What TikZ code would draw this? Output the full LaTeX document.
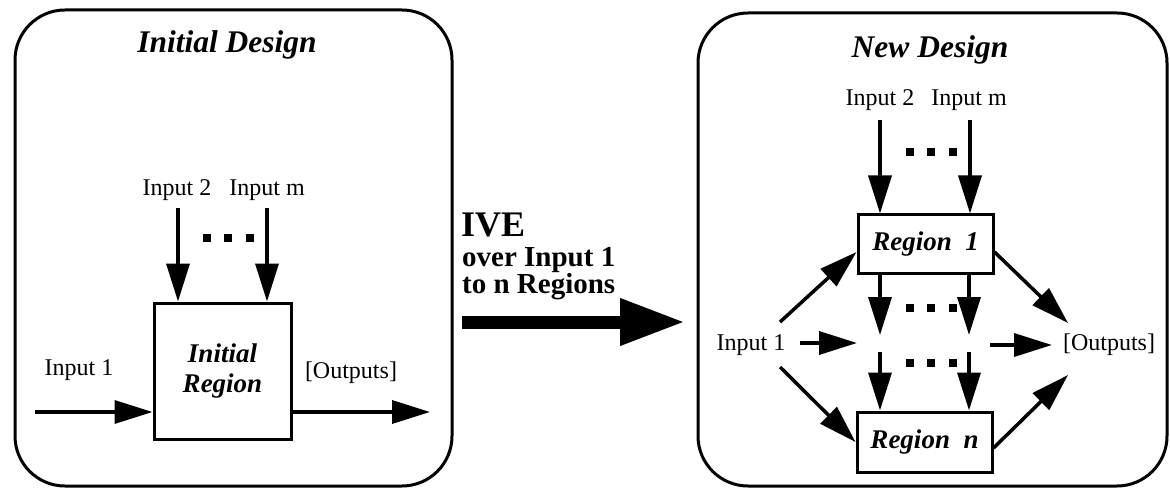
\documentclass[tikz,border=0pt]{standalone}
\usepackage{fontspec}
\setmainfont{Liberation Serif}
\usetikzlibrary{arrows.meta}
\begin{document}
\begin{tikzpicture}[x=1pt,y=-1pt,
  panel/.style={draw,line width=3pt,rounded corners=50pt},
  regionbox/.style={draw,line width=3pt,inner sep=0pt,align=center,
    font=\fontsize{27}{29}\selectfont\bfseries\itshape},
  flow/.style={line width=3.5pt,-{Triangle[length=38pt,width=23pt]}},
  lbl/.style={font=\fontsize{24}{26}\selectfont,inner sep=0pt},
  ttl/.style={font=\fontsize{31.5}{33}\selectfont\bfseries\itshape,inner sep=0pt},
  ive/.style={anchor=west,inner sep=0pt,font=\fontsize{29}{31}\selectfont\bfseries},
  sq/.style={fill,minimum size=8pt,inner sep=0pt}
]
\useasboundingbox (0,0) rectangle (1170,489);

% ---------- left panel: initial design ----------
\draw[panel] (15,10) rectangle (452,486);
\node[ttl] (t1) at (227,45) {Initial Design};
\node[regionbox,minimum width=137pt,minimum height=136pt] (r0) at (222.5,371)
  {Initial\\[1pt]Region};
\node[lbl] (l2) at (177,190) {Input 2};
\node[lbl] (lm) at (267,190) {Input m};
\coordinate (s2) at (178,208);
\coordinate (sm) at (267,208);
\draw[flow] (s2) -- (s2 |- r0.north);
\draw[flow] (sm) -- (sm |- r0.north);
\foreach \x [count=\i] in {207,228,250} \node[sq] (d0\i) at (\x,238) {};
\node[lbl] (l1) at (79,370) {Input 1};
\coordinate (s1) at (35,412);
\draw[flow] (s1) -- (s1 -| r0.west);
\coordinate (o0) at (430,412);
\draw[flow] (o0 -| r0.east) -- (o0);
\node[lbl] (lo) at (351,373) {[Outputs]};

% ---------- transformation ----------
\node[ive,font=\fontsize{36}{38}\selectfont\bfseries] (ive) at (461,225) {IVE};
\node[ive] (ive2) at (462,260) {over Input 1};
\node[ive] (ive3) at (462,287) {to n Regions};
\coordinate (bs) at (462,322);
\coordinate (be) at (685,322);
\draw[line width=13pt,-{Triangle[length=65pt,width=44pt]}] (bs) -- (be);

% ---------- right panel: new design ----------
\draw[panel] (698,13) rectangle (1167,486);
\node[ttl] (t2) at (930,50) {New Design};
\node[lbl] (n2) at (880,100) {Input 2};
\node[lbl] (nm) at (969,100) {Input m};
\node[regionbox,minimum width=135pt,minimum height=58pt] (r1) at (925.5,244) {Region\ \ \textit{1}};
\node[regionbox,minimum width=135pt,minimum height=60pt] (rn) at (924.5,442) {Region\ \ n};

\coordinate (u2) at (880,120);
\coordinate (um) at (970,120);
\draw[flow] (u2) -- (u2 |- r1.north);
\draw[flow] (um) -- (um |- r1.north);
\foreach \x [count=\i] in {910,931,953} \node[sq] (d1\i) at (\x,152) {};

\coordinate (m2a) at (880,335);
\coordinate (mma) at (969,335);
\draw[flow] (m2a |- r1.south) -- (m2a);
\draw[flow] (mma |- r1.south) -- (mma);
\foreach \x [count=\i] in {910,931,953} \node[sq] (d2\i) at (\x,308) {};

\coordinate (m2b) at (880,352);
\coordinate (mmb) at (969,352);
\draw[flow] (m2b) -- (m2b |- rn.north);
\draw[flow] (mmb) -- (mmb |- rn.north);
\foreach \x [count=\i] in {910,931,953} \node[sq] (d3\i) at (\x,363) {};

\node[lbl] (n1) at (751,345) {Input 1};
\coordinate (h1) at (800,343);
\coordinate (h2) at (857,343);
\draw[flow] (h1) -- (h2);
\coordinate (up1) at (780,322);
\coordinate (dn1) at (780,367);
\draw[flow] (up1) -- ([yshift=-8pt]r1.west);
\draw[flow] (dn1) -- (rn.west);

\node[lbl] (no) at (1109,345) {[Outputs]};
\coordinate (oa) at (1068,323);
\coordinate (ob) at (1068,375);
\draw[flow] ([yshift=-8pt]r1.east) -- (oa);
\draw[flow] ([yshift=-6pt]rn.east) -- (ob);
\coordinate (h3) at (990,345);
\coordinate (h4) at (1052,345);
\draw[flow] (h3) -- (h4);
\end{tikzpicture}
\end{document}
